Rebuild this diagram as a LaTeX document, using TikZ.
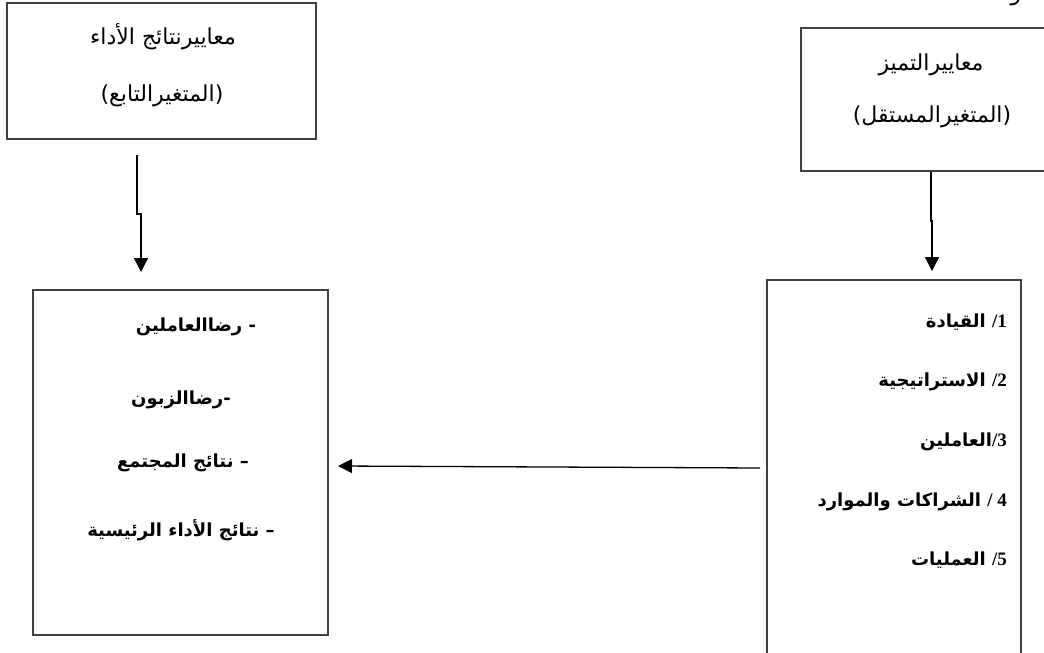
\documentclass[tikz,border=0pt]{standalone}
\usepackage{fontspec}
\usetikzlibrary{arrows.meta}
\TeXXeTstate=1
\newfontfamily\arabicfont[Script=Arabic]{DejaVu Sans}
\newfontfamily\numfont{Liberation Serif}

\begin{document}
\begin{tikzpicture}[x=1pt,y=-1pt,
  box/.style={draw=black!75, line width=1.2pt, inner sep=0pt},
  heading/.style={font=\arabicfont\fontsize{22}{24}\selectfont, inner sep=0pt},
  entry/.style={font=\arabicfont\bfseries\fontsize{18}{20}\selectfont, inner sep=0pt},
  link/.style={line width=1.3pt, -{Triangle[width=14pt,length=14pt]}}
]
\useasboundingbox (0,0) rectangle (1044,653);
\clip (0,0) rectangle (1044,653);

% cut-off letter at the page top
\node[heading, anchor=base] (stray) at (1016,0) {و};

% variable boxes
\node[box, minimum width=309pt, minimum height=136pt] (dep) at (161.5,71) {};
\node[box, minimum width=260pt, minimum height=143pt] (indep) at (931,99.5) {};
\node[box, minimum width=295pt, minimum height=345pt] (results) at (180.5,462.5) {};
\node[box, minimum width=254pt, minimum height=420pt] (criteria) at (894,490) {};

% box titles
\node[heading] (depA) at (163,37) {\beginR معاييرنتائج الأداء\endR};
\node[heading] (depB) at (162,96) {\beginR (المتغيرالتابع)\endR};
\node[heading] (indA) at (931,65) {\beginR معاييرالتميز\endR};
\node[heading] (indB) at (932,117) {\beginR (المتغيرالمستقل)\endR};

% result criteria
\node[entry] (r1) at (196,327) {\beginR - رضاالعاملين\endR};
\node[entry] (r2) at (181,400) {\beginR -رضاالزبون\endR};
\node[entry] (r3) at (183,463) {\beginR – نتائج المجتمع\endR};
\node[entry] (r4) at (181,530) {\beginR – نتائج الأداء الرئيسية\endR};

% enabler criteria
\node[entry, anchor=east] (e1) at (1007,322) {\beginR{\numfont\bfseries\fontsize{19}{21}\selectfont\beginL 1\endL/} القيادة\endR};
\node[entry, anchor=east] (e2) at (1007,382) {\beginR{\numfont\bfseries\fontsize{19}{21}\selectfont\beginL 2\endL/} الاستراتيجية\endR};
\node[entry, anchor=east] (e3) at (1007,442) {\beginR{\numfont\bfseries\fontsize{19}{21}\selectfont\beginL 3\endL/}العاملين\endR};
\node[entry, anchor=east] (e4) at (1007,502) {\beginR{\numfont\bfseries\fontsize{19}{21}\selectfont 4 /} الشراكات والموارد\endR};
\node[entry, anchor=east] (e5) at (1007,560) {\beginR{\numfont\bfseries\fontsize{19}{21}\selectfont\beginL 5\endL/} العمليات\endR};

% connector end points
\coordinate (depOut) at (137,155);
\coordinate (depBend) at (137,214);
\coordinate (resIn) at (141,272);
\coordinate (indBend) at (931,221);
\coordinate (critIn) at (932,271);
\coordinate (critOut) at (760,468);
\coordinate (resSide) at (338,466);

% connectors
\draw[link] (depOut) -- (depBend) -- (depBend -| resIn) -- (resIn);
\draw[link] (indep.south -| indBend) -- (indBend) -- (indBend -| critIn) -- (critIn);
\draw[link] (critOut) -- (resSide);
\end{tikzpicture}
\end{document}
